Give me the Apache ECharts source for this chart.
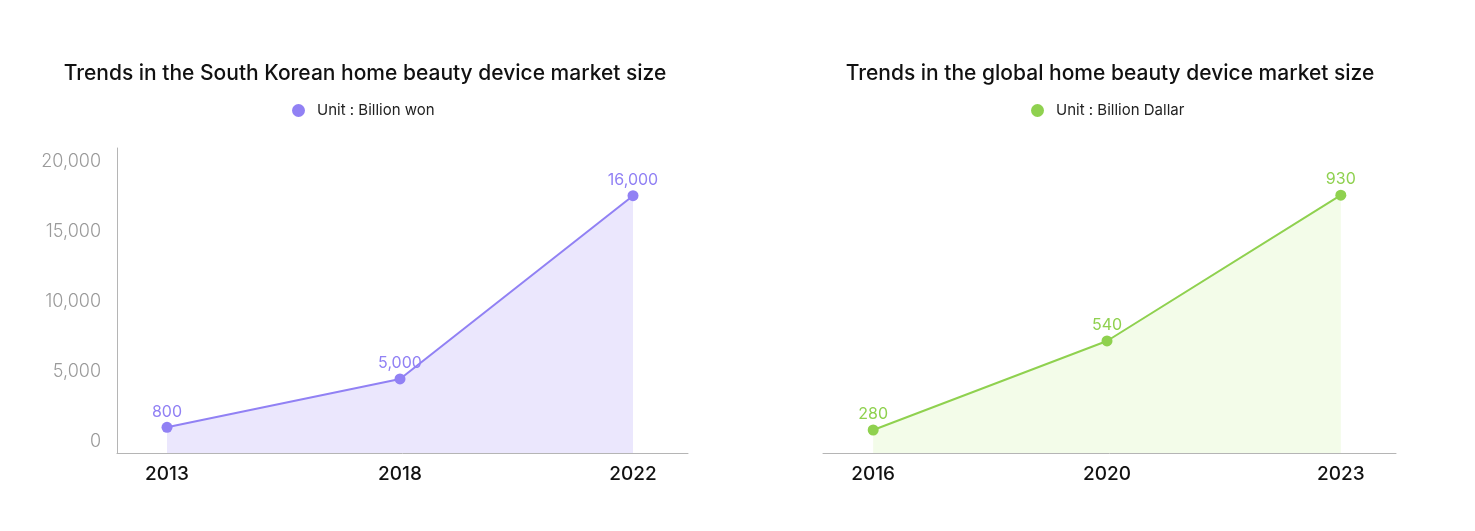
<!DOCTYPE html>
<html>
<head>
<meta charset="utf-8">
<script src="https://cdn.jsdelivr.net/npm/echarts@6/dist/echarts.min.js"></script>
<style>
html,body{margin:0;padding:0;background:#fff;}
#chart{width:1475px;height:531px;}
</style>
</head>
<body>
<div id="chart"></div>
<script>
// ---- data ----
const koreaYears = ['2013', '2018', '2022'];
const koreaLabels = ['800', '5,000', '16,000'];           // labels printed on the points
const koreaPlotted = [1030, 4480, 17570];                  // heights the points are drawn at
const koreaTicks = [0, 5000, 10000, 15000, 20000];

const globalYears = ['2016', '2020', '2023'];
const globalLabels = ['280', '540', '930'];
const globalPlotted = [83, 404, 930];

const titles = ['Trends in the South Korean home beauty device market size',
                'Trends in the global home beauty device market size'];
const unitNames = ['Unit : Billion won', 'Unit : Billion Dallar'];

const purple = '#9181f4', purpleFill = '#ebe7fd';
const green = '#8fd14f', greenFill = '#f3fce9';
const FONT = 'Inter';

const chart = echarts.init(document.getElementById('chart'), null, {renderer: 'canvas'});

function xAxisFor(gridIndex, years) {
  return {
    type: 'value', gridIndex, min: -0.2146, max: 2.236,
    axisLine: {show: true, onZero: false, lineStyle: {color: '#b5b5b5', width: 1}},
    axisTick: {show: false},
    splitLine: {show: false},
    axisLabel: {
      customValues: [0, 1, 2],
      formatter: v => years[Math.round(v)],
      color: '#111', fontSize: 19, fontFamily: FONT, fontWeight: 500, margin: 12
    }
  };
}

const option = {
  backgroundColor: '#fff',
  animation: false,
  textStyle: {fontFamily: FONT},
  title: [
    {text: titles[0], left: 360, top: 58, textAlign: 'center',
     textStyle: {fontSize: 21, fontWeight: 500, color: '#111', fontFamily: FONT}},
    {text: titles[1], left: 1105, top: 58, textAlign: 'center',
     textStyle: {fontSize: 21, fontWeight: 500, color: '#111', fontFamily: FONT}}
  ],
  legend: [
    {data: [unitNames[0]], left: 287, top: 98, icon: 'circle', itemWidth: 13, itemHeight: 13,
     textStyle: {fontSize: 15, color: '#222', fontFamily: FONT, padding: [0, 0, 0, 7]}},
    {data: [unitNames[1]], left: 1026, top: 98, icon: 'circle', itemWidth: 13, itemHeight: 13,
     textStyle: {fontSize: 15, color: '#222', fontFamily: FONT, padding: [0, 0, 0, 7]}}
  ],
  grid: [
    {left: 117, right: 787, top: 148, bottom: 78, containLabel: false},
    {left: 823, right: 79, top: 148, bottom: 78, containLabel: false}
  ],
  xAxis: [xAxisFor(0, koreaYears), xAxisFor(1, globalYears)],
  yAxis: [
    {type: 'value', gridIndex: 0, min: -807, max: 20979,
     axisLine: {show: true, onZero: false, lineStyle: {color: '#b5b5b5', width: 1}},
     axisTick: {show: false}, splitLine: {show: false},
     axisLabel: {customValues: koreaTicks,
       formatter: v => v.toLocaleString('en-US'),
       color: '#9a9a9a', fontSize: 18, fontFamily: FONT, fontWeight: 300, margin: 16}},
    {type: 'value', gridIndex: 1, min: 0, max: 1100, show: false,
     splitLine: {show: false}}
  ],
  series: [
    {name: unitNames[0], type: 'line', xAxisIndex: 0, yAxisIndex: 0,
     data: koreaPlotted.map((v, i) => [i, v]),
     symbol: 'circle', symbolSize: 11,
     itemStyle: {color: purple},
     lineStyle: {color: purple, width: 2},
     areaStyle: {color: purpleFill, opacity: 1, origin: 'start'},
     label: {show: true, position: 'top', distance: 2,
       formatter: p => koreaLabels[p.dataIndex],
       color: purple, fontSize: 16, fontFamily: FONT, fontWeight: 400}},
    {name: unitNames[1], type: 'line', xAxisIndex: 1, yAxisIndex: 1,
     data: globalPlotted.map((v, i) => [i, v]),
     symbol: 'circle', symbolSize: 11,
     itemStyle: {color: green},
     lineStyle: {color: green, width: 2},
     areaStyle: {color: greenFill, opacity: 1, origin: 'start'},
     label: {show: true, position: 'top', distance: 2,
       formatter: p => globalLabels[p.dataIndex],
       color: green, fontSize: 16, fontFamily: FONT, fontWeight: 400}}
  ]
};
chart.setOption(option);
</script>
</body>
</html>
